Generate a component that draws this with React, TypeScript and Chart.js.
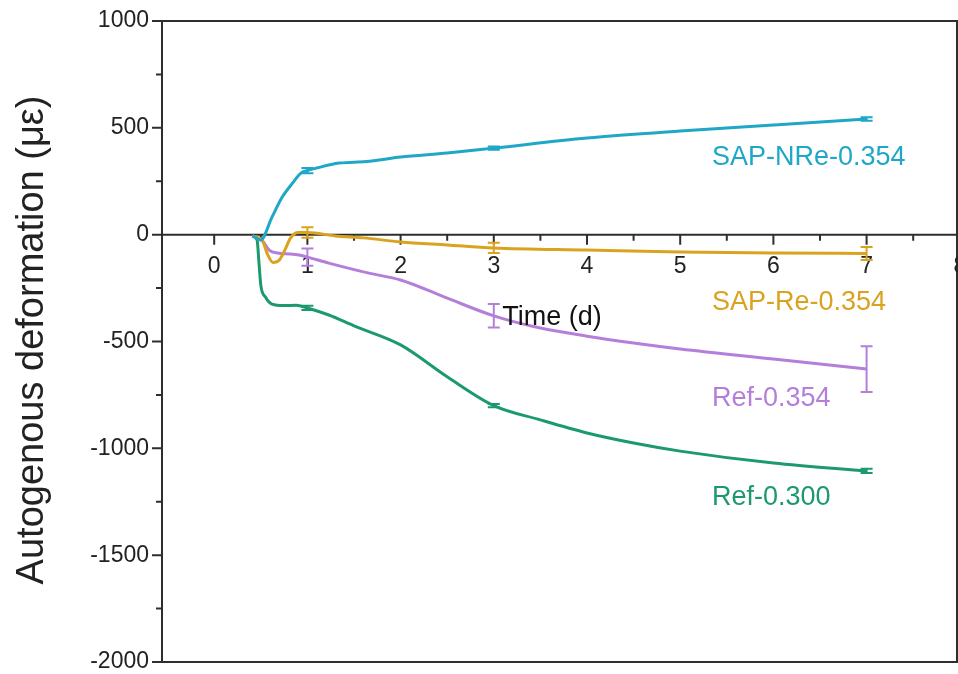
import { useEffect, useRef } from "react";
import { Chart, registerables } from "chart.js";

Chart.register(...registerables);

// Autogenous deformation (με) against curing time (days)
const nreDays = [0.41, 0.5, 0.62, 0.73, 0.84, 0.93, 1.0, 1.1, 1.34, 1.63, 2.0, 2.5, 3.0, 4.0, 5.0, 6.0, 7.0];
const nreStrain = [-6, -25, 82, 176, 241, 288, 300, 312, 335, 342, 363, 382, 405, 452, 485, 513, 541];

const reDays = [0.41, 0.52, 0.57, 0.63, 0.7, 0.76, 0.82, 0.9, 1.0, 1.3, 1.6, 2.0, 2.5, 3.0, 4.0, 5.0, 6.0, 7.0];
const reStrain = [-6, -30, -90, -130, -118, -70, -15, 10, 10, -6, -15, -34, -48, -62, -72, -81, -86, -88];

const ref354Days = [0.41, 0.52, 0.59, 0.68, 0.81, 0.91, 1.0, 1.23, 1.66, 2.0, 2.5, 3.0, 3.5, 4.0, 4.5, 5.0, 6.0, 7.0];
const ref354Strain = [-6, -30, -72, -86, -90, -95, -105, -133, -180, -212, -297, -380, -437, -475, -507, -535, -582, -629];

const ref300Days = [0.41, 0.46, 0.48, 0.5, 0.55, 0.62, 0.75, 0.88, 1.0, 1.23, 1.5, 2.0, 2.5, 3.0, 3.5, 4.0, 4.5, 5.0, 6.0, 7.0];
const ref300Strain = [-6, -25, -128, -236, -292, -325, -332, -330, -343, -376, -427, -516, -665, -800, -867, -928, -975, -1013, -1069, -1106];

// Standard deviations measured at 1, 3 and 7 days
const errorDays = [1, 3, 7];
const nreError = [12, 8, 8];
const reError = [25, 24, 30];
const ref354Error = [40, 55, 107];
const ref300Error = [10, 8, 10];

const seriesNames = ["SAP-NRe-0.354", "SAP-Re-0.354", "Ref-0.354", "Ref-0.300"];
const seriesColors = ["#1fa7c8", "#d9a31f", "#b47fda", "#1c9a6e"];

const xTickValues = [0, 1, 2, 3, 4, 5, 6, 7, 8];
const yTickValues = [-2000, -1500, -1000, -500, 0, 500, 1000];

const xTitle = "Time (d)";
const yTitle = "Autogenous deformation (με)";

const FONT = '"Liberation Sans", Arial, sans-serif';

const toPoints = (days: number[], vals: number[]) => days.map((d, i) => ({ x: d, y: vals[i] }));

const allDays = [nreDays, reDays, ref354Days, ref300Days];
const allStrain = [nreStrain, reStrain, ref354Strain, ref300Strain];
const allErrors = [nreError, reError, ref354Error, ref300Error];

// label anchors in data units (left edge, vertical middle)
const labelAnchors = [
  { x: 5.34, y: 363 },
  { x: 5.34, y: -316 },
  { x: 5.34, y: -765 },
  { x: 5.34, y: -1228 },
];
const xTitleAnchor = { x: 3.09, y: -390 };

const axesPlugin = {
  id: "originAxes",
  beforeDatasetsDraw(chart: any) {
    const { ctx, chartArea: a, scales } = chart;
    const xs = scales.x;
    const ys = scales.y;
    ctx.save();
    ctx.strokeStyle = "#2e2e2e";
    ctx.lineWidth = 2;
    ctx.beginPath();
    ctx.rect(a.left, a.top, a.right - a.left, a.bottom - a.top);
    ctx.stroke();

    // y ticks: majors every 500, minors every 250
    ctx.beginPath();
    for (let v = ys.min; v <= ys.max; v += 250) {
      const py = ys.getPixelForValue(v);
      const len = v % 500 === 0 ? 10 : 6;
      ctx.moveTo(a.left - len, py);
      ctx.lineTo(a.left, py);
    }
    // x axis crossing at zero strain
    const y0 = ys.getPixelForValue(0);
    ctx.moveTo(a.left - 10, y0);
    ctx.lineTo(a.right, y0);
    for (let t = 0; t <= xs.max; t += 0.5) {
      const px = xs.getPixelForValue(t);
      const len = Number.isInteger(t) ? 10 : 6;
      ctx.moveTo(px, y0);
      ctx.lineTo(px, y0 + len);
    }
    ctx.stroke();

    ctx.fillStyle = "#222";
    ctx.font = `23px ${FONT}`;
    ctx.textAlign = "right";
    ctx.textBaseline = "middle";
    yTickValues.forEach((v) => {
      ctx.fillText(String(v), a.left - 13, ys.getPixelForValue(v));
    });
    ctx.textAlign = "center";
    xTickValues.forEach((t) => {
      ctx.fillText(String(t), xs.getPixelForValue(t), y0 + 32);
    });

    ctx.save();
    ctx.translate(33, 340);
    ctx.rotate(-Math.PI / 2);
    ctx.font = `38px ${FONT}`;
    ctx.textAlign = "center";
    ctx.fillText(yTitle, 0, 0);
    ctx.restore();
    ctx.restore();
  },
  afterDatasetsDraw(chart: any) {
    const { ctx, scales } = chart;
    const xs = scales.x;
    const ys = scales.y;
    ctx.save();
    ctx.lineWidth = 2;
    allDays.forEach((days, s) => {
      ctx.strokeStyle = seriesColors[s];
      errorDays.forEach((d, k) => {
        const idx = days.indexOf(d);
        const mean = allStrain[s][idx];
        const err = allErrors[s][k];
        const px = xs.getPixelForValue(d);
        const top = ys.getPixelForValue(mean + err);
        const bot = ys.getPixelForValue(mean - err);
        ctx.beginPath();
        ctx.moveTo(px, top);
        ctx.lineTo(px, bot);
        ctx.moveTo(px - 6, top);
        ctx.lineTo(px + 6, top);
        ctx.moveTo(px - 6, bot);
        ctx.lineTo(px + 6, bot);
        ctx.stroke();
      });
    });

    ctx.font = `27px ${FONT}`;
    ctx.textAlign = "left";
    ctx.textBaseline = "middle";
    seriesNames.forEach((name, s) => {
      ctx.fillStyle = seriesColors[s];
      ctx.fillText(name, xs.getPixelForValue(labelAnchors[s].x), ys.getPixelForValue(labelAnchors[s].y));
    });
    ctx.fillStyle = "#111";
    ctx.font = `27px ${FONT}`;
    ctx.fillText(xTitle, xs.getPixelForValue(xTitleAnchor.x), ys.getPixelForValue(xTitleAnchor.y));
    ctx.restore();
  },
};

export default function App() {
  const canvasRef = useRef<HTMLCanvasElement | null>(null);

  useEffect(() => {
    const canvas = canvasRef.current;
    if (!canvas) return;
    const chart = new Chart(canvas, {
      type: "line",
      data: {
        datasets: allDays.map((days, s) => ({
          label: seriesNames[s],
          data: toPoints(days, allStrain[s]),
          borderColor: seriesColors[s],
          backgroundColor: seriesColors[s],
          borderWidth: 3,
          pointRadius: 0,
          cubicInterpolationMode: "monotone" as const,
          fill: false,
        })),
      },
      options: {
        responsive: false,
        animation: false,
        layout: { padding: { left: 162, top: 21, right: 1, bottom: 12 } },
        plugins: { legend: { display: false }, tooltip: { enabled: false } },
        scales: {
          x: { type: "linear", min: -0.56, max: 7.97, display: false },
          y: { type: "linear", min: -2000, max: 1000, display: false },
        },
      },
      plugins: [axesPlugin],
    });
    return () => chart.destroy();
  }, []);

  return (
    <div style={{ position: "absolute", left: 0, top: 0, width: 958, height: 674, overflow: "hidden", background: "#fff" }}>
      <canvas ref={canvasRef} width={958} height={674} />
    </div>
  );
}
